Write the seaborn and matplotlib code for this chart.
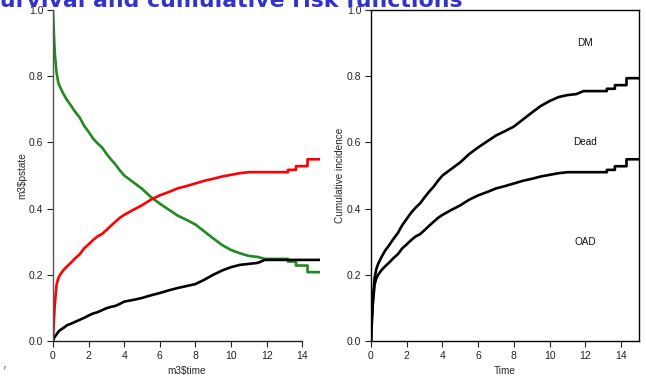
import numpy as np
import pandas as pd
import matplotlib
matplotlib.use("Agg")
import matplotlib.pyplot as plt
import seaborn as sns

sns.set_theme(style="white")
plt.rcParams["font.family"] = ["Liberation Sans", "DejaVu Sans"]

# Follow-up times (years); repeated times mark the late jumps of the estimates
time = [0, 0.05, 0.1, 0.2, 0.3, 0.4, 0.6, 0.8, 1.0, 1.25, 1.5, 1.75, 2.0, 2.25,
        2.5, 2.75, 3.0, 3.25, 3.5, 3.75, 4.0, 4.5, 5.0, 5.5, 6.0, 6.5, 7.0, 7.5,
        8.0, 8.5, 9.0, 9.5, 10.0, 10.5, 11.0, 11.5, 11.9, 13.2, 13.2, 13.65,
        13.65, 14.3, 14.3, 15.0]

# Probability of still being in the initial state
p_oad = [1.0, 0.93, 0.87, 0.81, 0.78, 0.767, 0.745, 0.727, 0.712, 0.692, 0.675,
         0.65, 0.632, 0.612, 0.597, 0.585, 0.566, 0.549, 0.534, 0.516, 0.5,
         0.48, 0.46, 0.435, 0.415, 0.397, 0.379, 0.366, 0.352, 0.331, 0.31,
         0.29, 0.275, 0.265, 0.257, 0.254, 0.248, 0.248, 0.24, 0.24, 0.228,
         0.228, 0.208, 0.208]

# Probability of having died
p_dead = [0.0, 0.06, 0.11, 0.17, 0.19, 0.20, 0.215, 0.226, 0.236, 0.25, 0.262,
          0.28, 0.292, 0.305, 0.316, 0.323, 0.335, 0.348, 0.36, 0.372, 0.381,
          0.396, 0.41, 0.427, 0.44, 0.45, 0.461, 0.468, 0.476, 0.484, 0.49,
          0.497, 0.502, 0.507, 0.51, 0.51, 0.51, 0.51, 0.517, 0.517, 0.528,
          0.528, 0.549, 0.549]

# Probability of having developed DM
p_dm = [0.0, 0.008, 0.013, 0.02, 0.028, 0.033, 0.04, 0.048, 0.052, 0.058, 0.064,
        0.07, 0.077, 0.083, 0.087, 0.093, 0.099, 0.103, 0.106, 0.112, 0.119,
        0.124, 0.13, 0.138, 0.145, 0.153, 0.16, 0.166, 0.172, 0.185, 0.2,
        0.213, 0.223, 0.23, 0.233, 0.236, 0.245, 0.245, 0.245, 0.245, 0.245,
        0.245, 0.245, 0.245]

state_labels = ["OAD", "Dead", "DM"]
x_ticks = [0, 2, 4, 6, 8, 10, 12, 14]
y_ticks = [0.0, 0.2, 0.4, 0.6, 0.8, 1.0]

df = pd.DataFrame({"time": time, "oad": p_oad, "dead": p_dead, "dm": p_dm})
# stacked cumulative incidence: dead, then dead + DM
df["stack_dead"] = df["dead"]
df["stack_dm"] = df["dead"] + df["dm"]

fig = plt.figure(figsize=(6.46, 3.76), dpi=100)
ax1 = fig.add_axes([53 / 646, 1 - 341 / 376, 267 / 646, 331 / 376])
ax2 = fig.add_axes([371 / 646, 1 - 341 / 376, 268 / 646, 331 / 376])

lw = 1.9
for col, colr in [("oad", "#1f8a1f"), ("dead", "#ff0000"), ("dm", "#000000")]:
    sns.lineplot(data=df, x="time", y=col, ax=ax1, color=colr, lw=lw,
                 estimator=None, sort=False)

for col in ["stack_dead", "stack_dm"]:
    sns.lineplot(data=df, x="time", y=col, ax=ax2, color="black", lw=lw,
                 estimator=None, sort=False)

tick_fs = 7.5
for ax in (ax1, ax2):
    ax.set_xlim(0, 15)
    ax.set_ylim(0, 1)
    ax.set_xticks(x_ticks)
    ax.set_yticks(y_ticks)
    ax.set_yticklabels([f"{v:.1f}" for v in y_ticks])
    ax.tick_params(axis="both", which="both", direction="out", length=4,
                   width=0.8, labelsize=tick_fs, colors="#222222",
                   bottom=True, left=True, pad=3)
    ax.grid(False)
    ax.set_facecolor("white")

# left panel: open axes, R-style bounded spines
ax1.spines["top"].set_visible(False)
ax1.spines["right"].set_visible(False)
ax1.spines["left"].set_bounds(0, 1)
ax1.spines["bottom"].set_bounds(0, 14)
ax1.spines["left"].set_color("#555555")
ax1.spines["bottom"].set_color("#222222")
for s in ax1.spines.values():
    s.set_linewidth(1.0)
ax1.set_xlabel(r"m3\$time", fontsize=7.2, labelpad=4)
ax1.set_ylabel(r"m3\$pstate", fontsize=7.2, labelpad=1)

# right panel: boxed
for s in ax2.spines.values():
    s.set_visible(True)
    s.set_color("black")
    s.set_linewidth(1.0)
ax2.set_xlabel("Time", fontsize=7.2, labelpad=4)
ax2.set_ylabel("Cumulative incidence", fontsize=7.2, labelpad=1)

label_y = [0.30, 0.60, 0.90]
for lab, yy in zip(state_labels, label_y):
    ax2.text(12, yy, lab, fontsize=7.2, ha="center", va="center", color="#111111")

fig.text(463 / 646, 1 - 7 / 376, "Survival and cumulative risk functions",
         ha="right", va="baseline", fontsize=15.8, fontweight="bold",
         color="#3333cc", family="DejaVu Sans")
fig.text(3 / 646, 1 - 370 / 376, "r", fontsize=5, color="#3333cc",
         ha="left", va="baseline")

fig.savefig("out.png", dpi=100)
